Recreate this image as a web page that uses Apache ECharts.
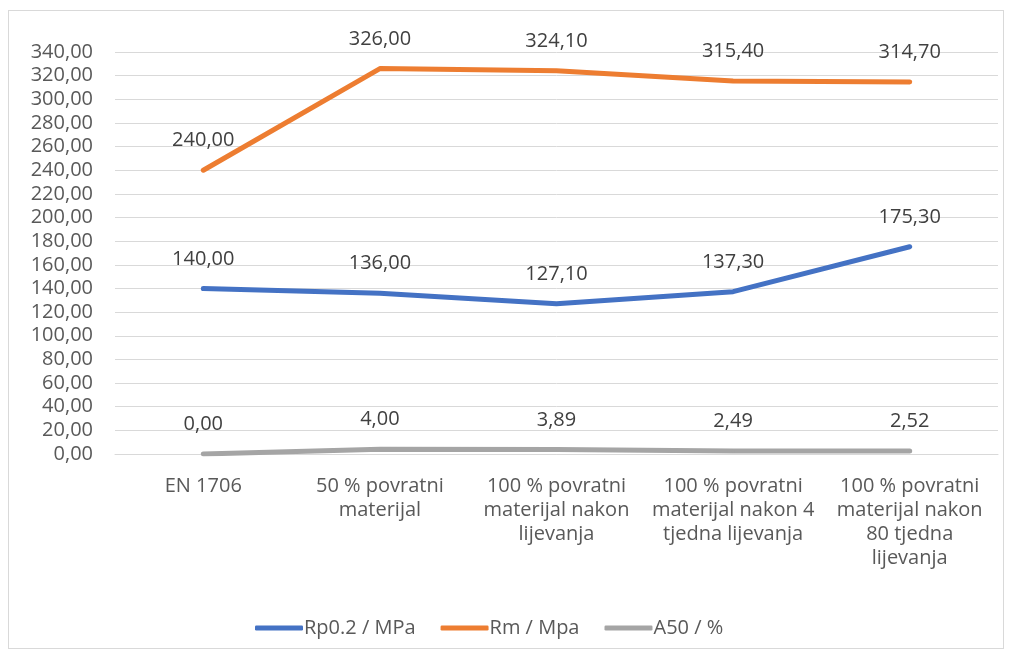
<!DOCTYPE html>
<html>
<head>
<meta charset="utf-8">
<script src="https://cdn.jsdelivr.net/npm/echarts@6/dist/echarts.min.js"></script>
<style>
  html, body { margin: 0; padding: 0; background: #fff; }
  #frame {
    position: absolute; left: 8px; top: 10px; width: 996px; height: 639px;
    border: 1px solid #d9d9d9; box-sizing: border-box;
  }
  #chart { position: absolute; left: 0; top: 0; width: 1012px; height: 659px; }
</style>
</head>
<body>
<div id="frame"></div>
<div id="chart"></div>
<script>
// kategorije i vrijednosti
const categories = [
  "EN 1706",
  "50 % povratni\nmaterijal",
  "100 % povratni\nmaterijal nakon\nlijevanja",
  "100 % povratni\nmaterijal nakon 4\ntjedna lijevanja",
  "100 % povratni\nmaterijal nakon\n80 tjedna\nlijevanja"
];
const rp02 = [140.0, 136.0, 127.1, 137.3, 175.3];
const rm = [240.0, 326.0, 324.1, 315.4, 314.7];
const a50 = [0.0, 4.0, 3.89, 2.49, 2.52];
const seriesNames = ["Rp0.2 / MPa", "Rm / Mpa", "A50 / %"];
const colors = ["#4472C4", "#ED7D31", "#A5A5A5"];

const font = "'Open Sans', 'Noto Sans', sans-serif";
const fmt = (v) => Number(v).toFixed(2).replace(".", ",");

function makeSeries(name, data, color) {
  return {
    name: name,
    type: "line",
    data: data,
    smooth: false,
    symbol: "circle",
    symbolSize: 3,
    showSymbol: true,
    lineStyle: { width: 5, color: color, cap: "round", join: "round" },
    itemStyle: { color: color },
    label: {
      show: true,
      position: "top",
      distance: 18,
      fontFamily: font,
      fontSize: 20,
      color: "#404040",
      formatter: (p) => fmt(p.value)
    }
  };
}

const chart = echarts.init(document.getElementById("chart"));
chart.setOption({
  animation: false,
  color: colors,
  grid: { left: 115, right: 14, top: 52, height: 402, containLabel: false },
  legend: {
    bottom: 16,
    left: 250,
    itemWidth: 48,
    itemHeight: 5,
    itemGap: 25,
    icon: "roundRect",
    textStyle: { fontFamily: font, fontSize: 20, color: "#595959", padding: [0, 0, 0, -4] },
    data: seriesNames
  },
  xAxis: {
    type: "category",
    data: categories,
    boundaryGap: true,
    axisLine: { show: true, lineStyle: { color: "#d9d9d9", width: 1 } },
    axisTick: { show: false },
    axisLabel: {
      interval: 0,
      margin: 20,
      fontFamily: font,
      fontSize: 20,
      lineHeight: 24,
      color: "#595959",
      align: "center"
    }
  },
  yAxis: {
    type: "value",
    min: 0,
    max: 340,
    interval: 20,
    axisLine: { show: false },
    axisTick: { show: false },
    splitLine: { lineStyle: { color: "#d9d9d9", width: 1 } },
    axisLabel: {
      margin: 22,
      fontFamily: font,
      fontSize: 20,
      color: "#595959",
      formatter: (v) => fmt(v)
    }
  },
  series: [
    makeSeries(seriesNames[0], rp02, colors[0]),
    makeSeries(seriesNames[1], rm, colors[1]),
    makeSeries(seriesNames[2], a50, colors[2])
  ]
});
</script>
</body>
</html>
